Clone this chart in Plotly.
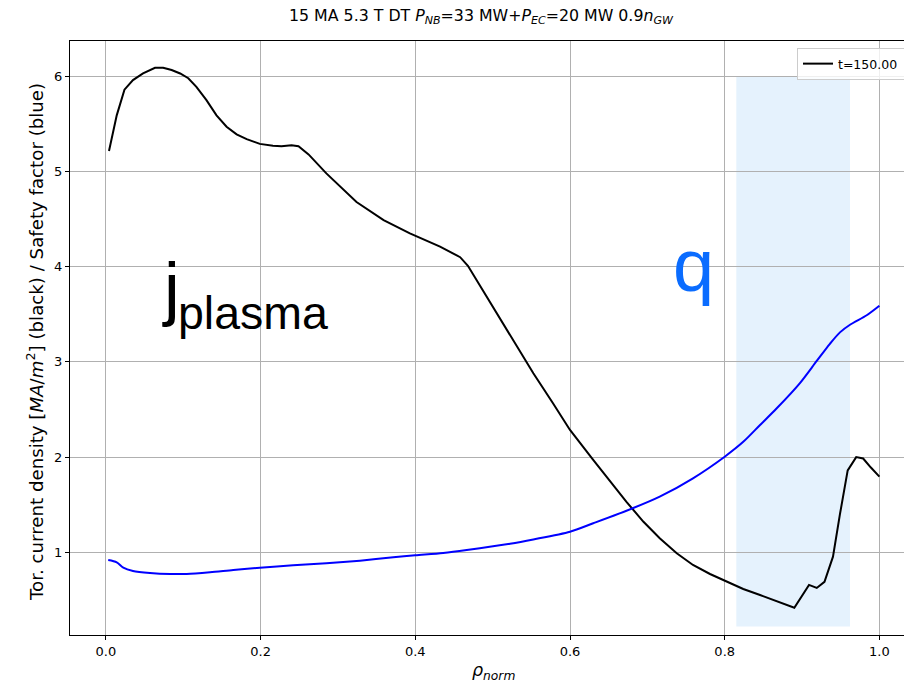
import plotly.graph_objects as go

# ---- data ----
rho_j = [0.004, 0.014, 0.024, 0.035, 0.048, 0.0635, 0.074, 0.085, 0.096, 0.1065,
         0.117, 0.130, 0.143, 0.156, 0.169, 0.182, 0.199, 0.216, 0.227, 0.240,
         0.249, 0.262, 0.285, 0.324, 0.359, 0.393, 0.432, 0.458, 0.468, 0.5095,
         0.5526, 0.578, 0.600, 0.630, 0.6517, 0.673, 0.695, 0.716, 0.738, 0.759,
         0.781, 0.800, 0.824, 0.8457, 0.867, 0.890, 0.909, 0.919, 0.929, 0.940,
         0.949, 0.959, 0.970, 0.979, 0.989, 1.000]
j_plasma = [5.215, 5.59, 5.86, 5.96, 6.03, 6.09, 6.09, 6.066, 6.03, 5.98,
            5.89, 5.75, 5.59, 5.47, 5.39, 5.34, 5.29, 5.27, 5.265, 5.275,
            5.265, 5.18, 4.98, 4.68, 4.49, 4.35, 4.21, 4.10, 4.01, 3.46,
            2.88, 2.565, 2.285, 1.97, 1.742, 1.53, 1.32, 1.147, 0.99, 0.867,
            0.772, 0.699, 0.614, 0.551, 0.49, 0.418, 0.657, 0.625, 0.69, 0.954,
            1.40, 1.86, 2.0, 1.985, 1.89, 1.795]

rho_q = [0.003, 0.014, 0.0225, 0.035, 0.057, 0.083, 0.1045, 0.1346, 0.1647, 0.199,
         0.242, 0.285, 0.3285, 0.3716, 0.400, 0.436, 0.4665, 0.5224, 0.5526, 0.600,
         0.630, 0.681, 0.716, 0.759, 0.800, 0.824, 0.8457, 0.867, 0.897, 0.919,
         0.936, 0.949, 0.962, 0.9836, 1.000]
q_safety = [0.919, 0.895, 0.838, 0.804, 0.783, 0.772, 0.772, 0.79, 0.814, 0.838,
            0.863, 0.884, 0.912, 0.947, 0.968, 0.993, 1.024, 1.09, 1.135, 1.216,
            1.305, 1.462, 1.584, 1.777, 2.004, 2.16, 2.337, 2.51, 2.775, 3.01,
            3.19, 3.31, 3.39, 3.49, 3.59]

shade_rho = [0.815, 0.962]
shade_y = [0.22, 6.0]

x_ticks = [0.0, 0.2, 0.4, 0.6, 0.8, 1.0]
x_ticklabels = ["0.0", "0.2", "0.4", "0.6", "0.8", "1.0"]
y_ticks = [1, 2, 3, 4, 5, 6]
y_ticklabels = ["1", "2", "3", "4", "5", "6"]

legend_label = "t=150.00"
title_text = ("15 MA 5.3 T DT <i>P</i><sub><i>NB</i></sub>=33 MW+<i>P</i><sub><i>EC</i></sub>"
              "=20 MW 0.9<i>n</i><sub><i>GW</i></sub>")
ylabel_text = "Tor. current density [<i>MA</i>/<i>m</i><sup>2</sup>] (black) / Safety factor (blue)"
xlabel_text = "<i>ρ</i><sub><i>norm</i></sub>"

# ---- figure geometry ----
W, H = 904, 684
ML, MR, MT, MB = 70, 0, 41, 49
PW, PH = W - ML - MR, H - MT - MB


def px(xp):
    return (xp - ML) / PW


def py(yp):
    return (H - MB - yp) / PH


fig = go.Figure()
fig.add_trace(go.Scatter(x=rho_j, y=j_plasma, mode="lines",
                         line=dict(color="black", width=2), name=legend_label,
                         showlegend=True))
fig.add_trace(go.Scatter(x=rho_q, y=q_safety, mode="lines",
                         line=dict(color="blue", width=2, shape="spline", smoothing=0.8),
                         showlegend=False))

fig.add_shape(type="rect", xref="x", yref="y",
              x0=shade_rho[0], x1=shade_rho[1], y0=shade_y[0], y1=shade_y[1],
              fillcolor="#e5f2fd", line=dict(width=0), layer="below")

base_font = "DejaVu Sans"
annos = [
    dict(text=title_text, xref="paper", yref="paper", x=px(481), y=py(17),
         xanchor="center", yanchor="middle", showarrow=False,
         font=dict(family=base_font, size=15.8, color="black")),
    dict(text=ylabel_text, xref="paper", yref="paper", x=px(35), y=py(342),
         xanchor="center", yanchor="middle", textangle=-90, showarrow=False,
         font=dict(family=base_font, size=18.2, color="black")),
    dict(text=xlabel_text, xref="paper", yref="paper", x=px(494), y=py(671),
         xanchor="center", yanchor="middle", showarrow=False,
         font=dict(family=base_font, size=17.5, color="black")),
    dict(text="j", xref="paper", yref="paper", x=px(160), y=py(287),
         xanchor="left", yanchor="middle", showarrow=False,
         font=dict(family="Liberation Sans", size=71, color="black")),
    dict(text="plasma", xref="paper", yref="paper", x=px(176), y=py(313),
         xanchor="left", yanchor="middle", showarrow=False,
         font=dict(family="Liberation Sans", size=46.5, color="black")),
    dict(text="q", xref="paper", yref="paper", x=px(671), y=py(265),
         xanchor="left", yanchor="middle", showarrow=False,
         font=dict(family="Liberation Sans", size=74, color="#0a6cff")),
]

fig.update_layout(
    width=W, height=H,
    margin=dict(l=ML, r=MR, t=MT, b=MB, pad=0, autoexpand=False),
    paper_bgcolor="white", plot_bgcolor="white",
    annotations=annos,
    showlegend=True,
    legend=dict(x=px(797), y=py(48), xanchor="left", yanchor="top",
                orientation="h", entrywidth=85,
                bgcolor="rgba(255,255,255,0.8)", bordercolor="#cccccc", borderwidth=1,
                font=dict(family=base_font, size=12.5, color="black"),
                itemwidth=30, tracegroupgap=0),
    font=dict(family=base_font, size=12, color="black"),
)

fig.update_xaxes(range=[(70 - 105.9) / 773.5, (904 - 105.9) / 773.5],
                 tickvals=x_ticks, ticktext=x_ticklabels,
                 showgrid=True, gridcolor="#b0b0b0", gridwidth=1,
                 showline=True, linecolor="black", linewidth=1, mirror=True,
                 ticks="outside", ticklen=4, tickcolor="black",
                 tickfont=dict(family=base_font, size=13, color="black"),
                 zeroline=False)
fig.update_yaxes(range=[0.131, 6.371],
                 tickvals=y_ticks, ticktext=y_ticklabels,
                 showgrid=True, gridcolor="#b0b0b0", gridwidth=1,
                 showline=True, linecolor="black", linewidth=1, mirror=False,
                 ticks="outside", ticklen=4, tickcolor="black",
                 tickfont=dict(family=base_font, size=13, color="black"),
                 zeroline=False)

fig.write_html("out.html")
